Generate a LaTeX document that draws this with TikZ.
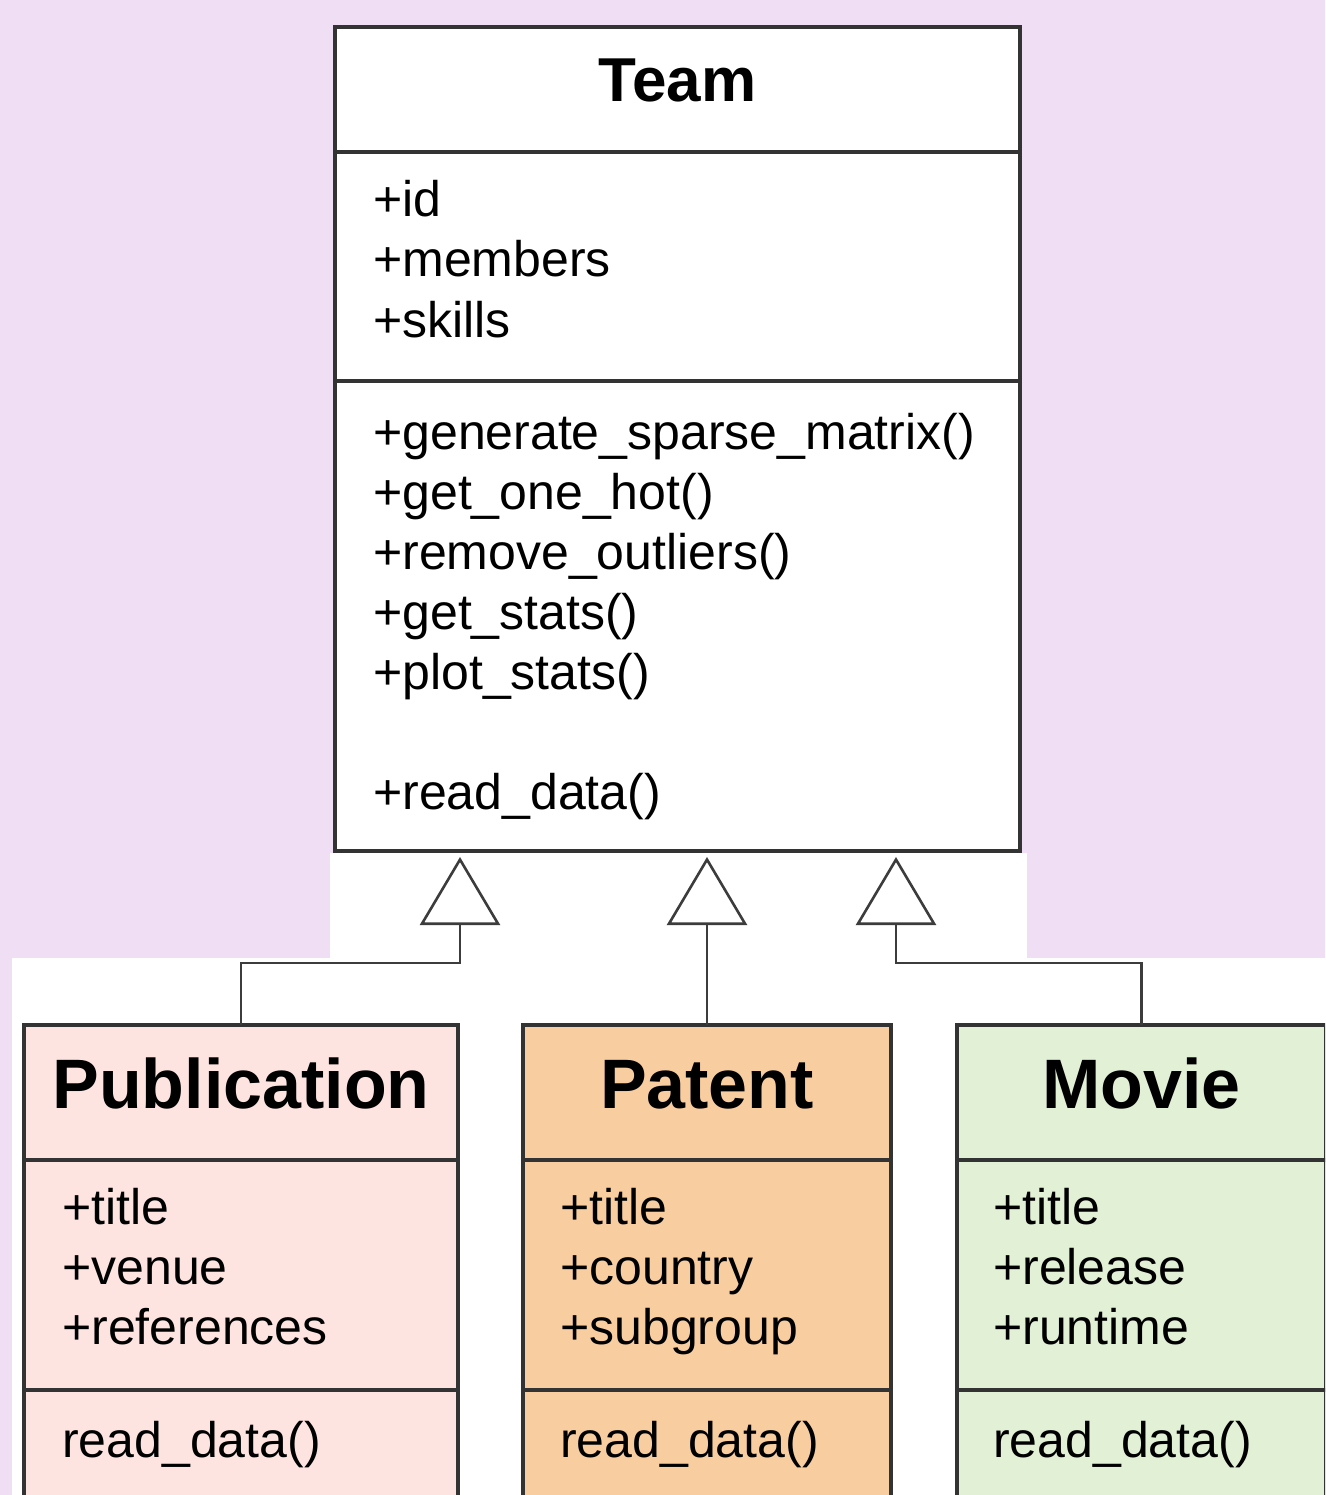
\documentclass[tikz,border=0pt]{standalone}
\usepackage{fontspec}
\setmainfont{Liberation Sans}
\usetikzlibrary{arrows.meta}
\definecolor{lav}{HTML}{F0DEF4}
\definecolor{pubc}{HTML}{FDE4E1}
\definecolor{patc}{HTML}{F8CDA0}
\definecolor{movc}{HTML}{E2F0D6}
\definecolor{bordc}{HTML}{333333}
\definecolor{connc}{HTML}{3C3C3C}
\begin{document}
\begin{tikzpicture}[x=1pt,y=-1pt,
  box/.style={draw=bordc, line width=4.5pt, inner sep=0pt, outer sep=0pt, rectangle},
  sepline/.style={draw=bordc, line width=4.5pt},
  attr/.style={anchor=base west, inner sep=0pt, font=\fontsize{50}{60}\selectfont},
  ttl/.style={anchor=base, inner sep=0pt, font=\bfseries\fontsize{70}{80}\selectfont},
  teamttl/.style={anchor=base, inner sep=0pt, font=\bfseries\fontsize{62}{70}\selectfont},
  inh/.style={draw=connc, line width=2.6pt, -{Triangle[open, length=68pt, width=80pt]}},
]
\clip (0,0) rectangle (1325,1495);
\fill[lav] (0,0) rectangle (1325,1495);
\fill[white] (330,853) rectangle (1027,958);
\fill[white] (12,958) rectangle (1325,1495);

% Team
\node[box, fill=white, minimum width=685pt, minimum height=824pt] (team) at (677.5,439) {};
\draw[sepline] (team.west |- 0,152) -- (team.east |- 0,152);
\draw[sepline] (team.west |- 0,381) -- (team.east |- 0,381);
\node[teamttl] (teamname) at (677.5,102) {Team};
\node[attr] (ta1) at (373,217) {+id};
\node[attr] (ta2) at (373,277) {+members};
\node[attr] (ta3) at (373,337) {+skills};
\node[attr] (tm1) at (373,449) {+generate\_sparse\_matrix()};
\node[attr] (tm2) at (373,509) {+get\_one\_hot()};
\node[attr] (tm3) at (373,569) {+remove\_outliers()};
\node[attr] (tm4) at (373,629) {+get\_stats()};
\node[attr] (tm5) at (373,689) {+plot\_stats()};
\node[attr] (tm6) at (373,809) {+read\_data()};

% Publication
\node[box, fill=pubc, minimum width=434pt, minimum height=485pt] (pub) at (241,1267.5) {};
\draw[sepline] (pub.west |- 0,1160) -- (pub.east |- 0,1160);
\draw[sepline] (pub.west |- 0,1390) -- (pub.east |- 0,1390);
\node[ttl] (pubname) at (241,1108) {Publication};
\node[attr] (pa1) at (62,1224) {+title};
\node[attr] (pa2) at (62,1284) {+venue};
\node[attr] (pa3) at (62,1344) {+references};
\node[attr] (pm1) at (62,1457) {read\_data()};

% Patent
\node[box, fill=patc, minimum width=368pt, minimum height=485pt] (pat) at (707,1267.5) {};
\draw[sepline] (pat.west |- 0,1160) -- (pat.east |- 0,1160);
\draw[sepline] (pat.west |- 0,1390) -- (pat.east |- 0,1390);
\node[ttl] (patname) at (707,1108) {Patent};
\node[attr] (qa1) at (560,1224) {+title};
\node[attr] (qa2) at (560,1284) {+country};
\node[attr] (qa3) at (560,1344) {+subgroup};
\node[attr] (qm1) at (560,1457) {read\_data()};

% Movie
\node[box, fill=movc, minimum width=369pt, minimum height=485pt] (mov) at (1141.5,1267.5) {};
\draw[sepline] (mov.west |- 0,1160) -- (mov.east |- 0,1160);
\draw[sepline] (mov.west |- 0,1390) -- (mov.east |- 0,1390);
\node[ttl] (movname) at (1141.5,1108) {Movie};
\node[attr] (ma1) at (993,1224) {+title};
\node[attr] (ma2) at (993,1284) {+release};
\node[attr] (ma3) at (993,1344) {+runtime};
\node[attr] (mm1) at (993,1457) {read\_data()};

% Inheritance connectors
\coordinate (t1) at (460,857);
\coordinate (t2) at (707,857);
\coordinate (t3) at (896,857);
\draw[inh] (pub.north) |- (460,963) -- (t1);
\draw[inh] (pat.north) -- (t2);
\draw[inh] (mov.north) |- (896,963) -- (t3);
\end{tikzpicture}
\end{document}
